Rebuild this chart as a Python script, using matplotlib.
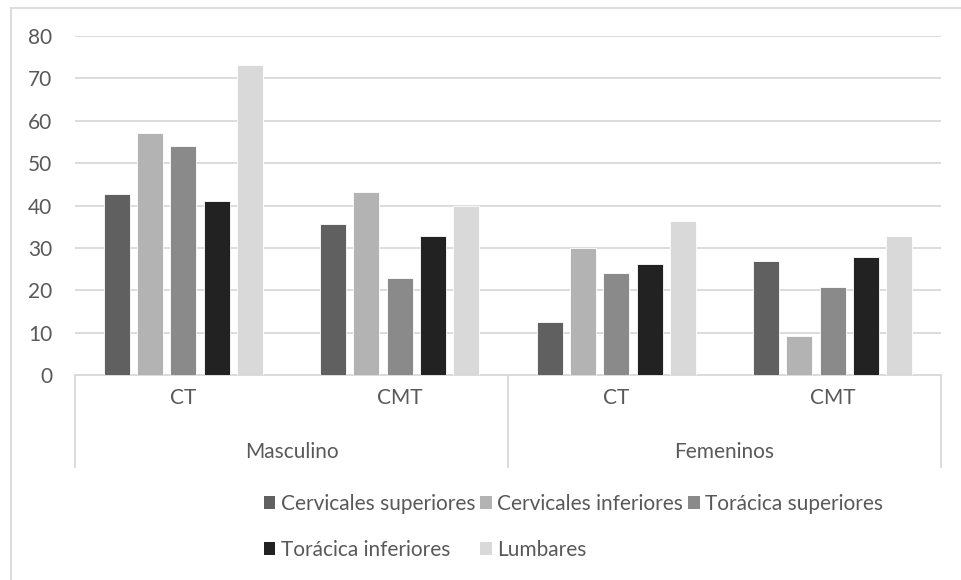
import matplotlib
matplotlib.use("Agg")
import matplotlib.pyplot as plt
from matplotlib.patches import Patch
from matplotlib.lines import Line2D
import matplotlib.transforms as mtransforms
import numpy as np

plt.rcParams['font.family'] = ['Lato', 'DejaVu Sans']

subgroups = ["CT", "CMT", "CT", "CMT"]
groups = ["Masculino", "Femeninos"]
series = ["Cervicales superiores", "Cervicales inferiores", "Torácica superiores",
          "Torácica inferiores", "Lumbares"]
cerv_sup = [42.8, 35.6, 12.5, 26.9]
cerv_inf = [57.0, 43.3, 30.0, 9.1]
tor_sup = [54.0, 23.0, 24.1, 20.8]
tor_inf = [41.1, 32.8, 26.1, 27.8]
lumbares = [73.2, 40.0, 36.3, 32.7]
values = [cerv_sup, cerv_inf, tor_sup, tor_inf, lumbares]
colors = ["#606060", "#b3b3b3", "#8a8a8a", "#222222", "#d9d9d9"]
yticks = [0, 10, 20, 30, 40, 50, 60, 70, 80]

W, H = 961, 580
fig = plt.figure(figsize=(W / 100, H / 100), dpi=100)
x0, x1 = 75, 941
y0, y1 = 375, 36
ax = fig.add_axes([x0 / W, (H - y0) / H, (x1 - x0) / W, (y0 - y1) / H])

txt = "#595959"
grid = "#d9d9d9"
fs = 15
n = len(subgroups)
xs = np.arange(n)
pitch = 0.154
bw = 0.12
for i, (vals, c) in enumerate(zip(values, colors)):
    ax.bar(xs + (i - 2) * pitch, vals, width=bw, color=c, edgecolor="white",
           linewidth=0.6, zorder=3, label=series[i])

ax.set_xlim(-0.5, n - 0.5)
ax.set_ylim(0, 80)
ax.set_yticks(yticks)
ax.set_yticklabels([str(t) for t in yticks], color=txt, fontsize=fs)
ax.tick_params(axis="y", length=0, pad=16.5)
ax.tick_params(axis="x", length=0, labelbottom=False)
ax.yaxis.grid(True, color=grid, linewidth=1.3, zorder=0)
for s in ["top", "right", "left"]:
    ax.spines[s].set_visible(False)
ax.spines["bottom"].set_color(grid)
ax.spines["bottom"].set_linewidth(1.3)

# multi-level category axis
trans = mtransforms.blended_transform_factory(ax.transData, fig.transFigure)
def fy(py):
    return (H - py) / H
for xv in [-0.5, 1.5, 3.5]:
    fig.add_artist(Line2D([xv, xv], [fy(375), fy(467)], transform=trans,
                          color=grid, linewidth=1.3))
for i, lab in enumerate(subgroups):
    fig.text(i, fy(398), lab, transform=trans, ha="center", va="center",
             color=txt, fontsize=fs)
for g, lab in enumerate(groups):
    fig.text(2 * g + 0.5, fy(452), lab, transform=trans, ha="center",
             va="center", color=txt, fontsize=fs)

# outer frame (top and left)
fig.add_artist(Line2D([11 / W, 1], [fy(8), fy(8)], color=grid, linewidth=1.3))
fig.add_artist(Line2D([11 / W, 11 / W], [fy(8), 0], color=grid, linewidth=1.3))

# legend, row-major order
order = [0, 3, 1, 4, 2]
handles = [Patch(facecolor=colors[k], edgecolor="none") for k in order]
labels = [series[k] for k in order]
leg = fig.legend(handles, labels, ncol=3, loc="upper left",
                 bbox_to_anchor=(264 / W, fy(494)), frameon=False,
                 fontsize=fs, labelcolor=txt, handlelength=0.55,
                 handleheight=0.55, handletextpad=0.25, columnspacing=0.25,
                 labelspacing=1.25, borderpad=0, borderaxespad=0)

fig.savefig("out.png", dpi=100, facecolor="white")
